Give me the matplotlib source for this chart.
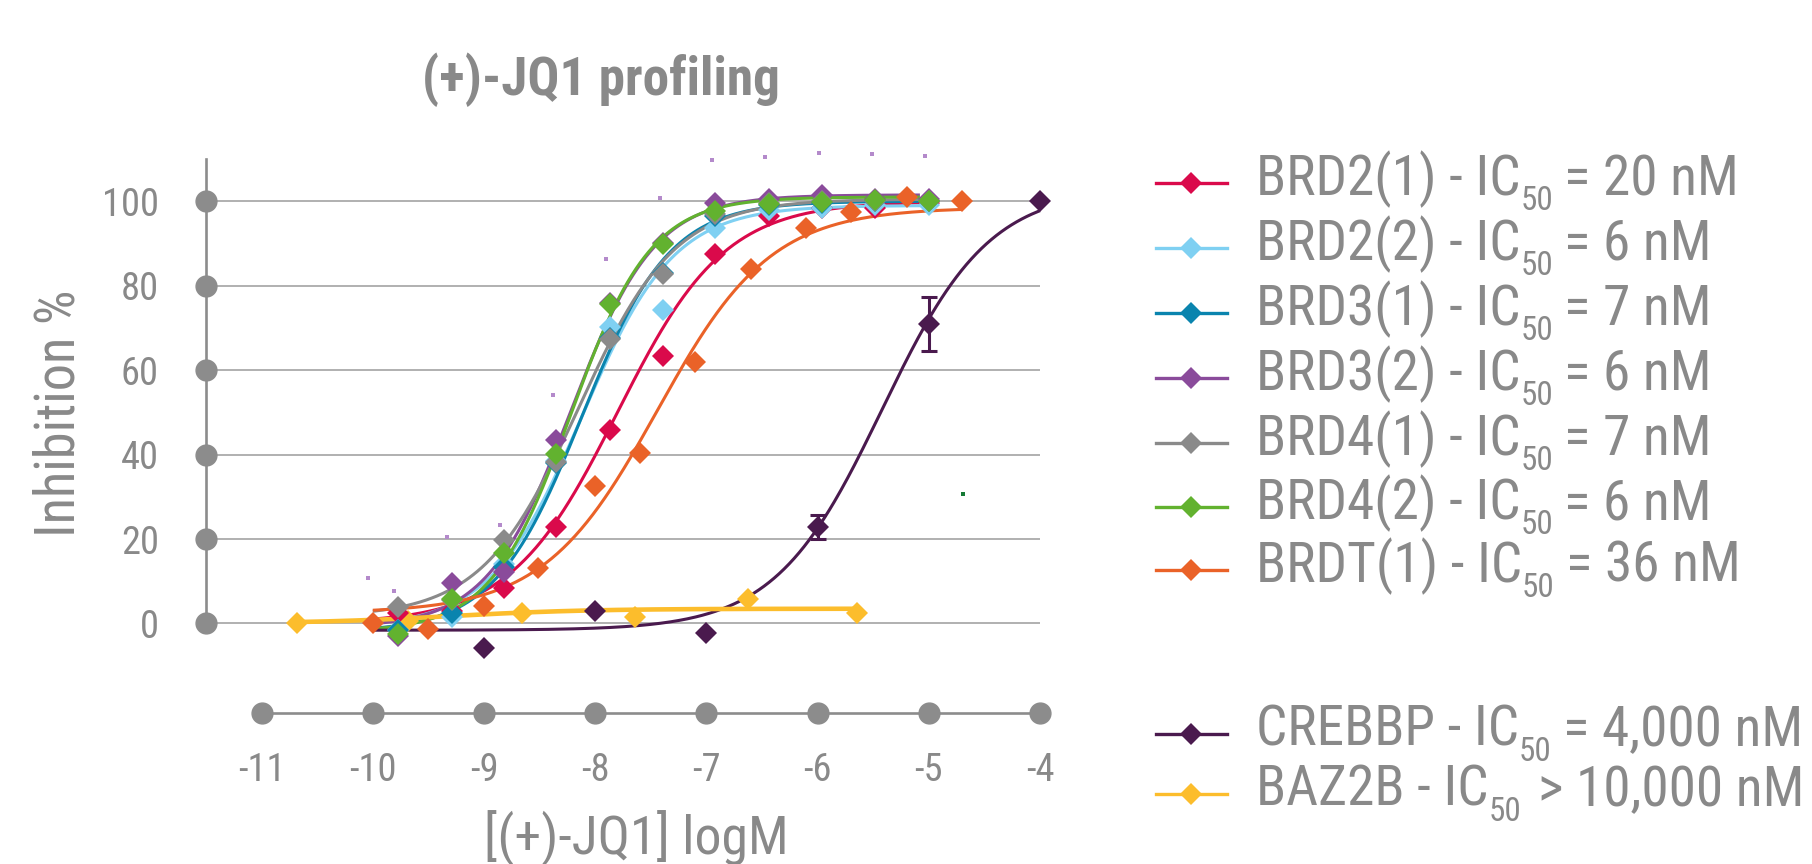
import matplotlib
matplotlib.use("Agg")
import numpy as np
import matplotlib.pyplot as plt
from matplotlib.lines import Line2D
from matplotlib import font_manager

# ---------- font: prefer a narrow / condensed sans if one is installed ----------
fm = font_manager.fontManager
names = {f.name for f in fm.ttflist}
FONT, STRETCH = "Liberation Sans", "normal"
for cand in ["Liberation Sans Narrow", "Roboto Condensed", "Open Sans Condensed",
             "Noto Sans Condensed", "DejaVu Sans Condensed", "Arial Narrow"]:
    if cand in names:
        FONT = cand
        break
else:
    for f in fm.ttflist:
        if f.stretch in ("condensed", "semi-condensed", "extra-condensed") and \
                f.name in ("Roboto", "Noto Sans", "Open Sans", "DejaVu Sans", "Liberation Sans"):
            FONT, STRETCH = f.name, f.stretch
            break
plt.rcParams["font.family"] = [FONT, "DejaVu Sans"]
plt.rcParams["font.stretch"] = STRETCH
plt.rcParams["axes.unicode_minus"] = False

# ---------------- data ----------------
series_names = ["BRD2(1)", "BRD2(2)", "BRD3(1)", "BRD3(2)", "BRD4(1)", "BRD4(2)",
                "BRDT(1)", "CREBBP", "BAZ2B"]
series_colors = ["#DA0A4B", "#7FD0F2", "#0A84AE", "#8A4B9B", "#8A8A8A", "#62B22F",
                 "#EA6228", "#4A1A4E", "#FCBD2C"]

conc_brd = [-9.77, -9.29, -8.82, -8.35, -7.87, -7.39, -6.92, -6.44, -5.96, -5.48, -5.00]
brd2_1 = [2.4, 3.0, 8.4, 22.9, 45.9, 63.3, 87.6, 96.5, 98.5, 98.5, 99.5]
brd2_2 = [-1.5, 1.5, 14.0, 38.5, 70.2, 74.2, 93.7, 98.0, 98.5, 99.0, 99.0]
brd3_1 = [-1.5, 2.5, 13.4, 38.0, 67.5, 83.0, 96.5, 99.0, 99.5, 100.0, 100.0]
brd3_2 = [-3.0, 9.6, 12.2, 43.5, 76.0, 90.0, 99.6, 100.5, 101.4, 100.5, 100.5]
brd4_1 = [3.9, 5.5, 19.7, 38.3, 67.4, 82.8, 97.0, 99.6, 100.0, 100.0, 100.0]
brd4_2 = [-2.4, 5.9, 16.6, 40.2, 75.7, 89.8, 97.8, 99.4, 99.8, 100.2, 100.0]

conc_brdt = [-10.0, -9.5, -9.0, -8.51, -8.0, -7.6, -7.1, -6.6, -6.1, -5.7, -5.2, -4.7]
brdt_1 = [0.1, -1.3, 4.2, 13.2, 32.5, 40.4, 61.9, 84.0, 93.7, 97.4, 101.1, 100.0]

conc_crebbp = [-9.0, -8.0, -7.0, -6.0, -5.0, -4.0]
crebbp = [-5.9, 3.0, -2.2, 22.9, 71.0, 100.0]
crebbp_err = [0.0, 0.0, 0.0, 2.9, 6.4, 0.0]

conc_baz2b = [-10.68, -9.68, -8.66, -7.64, -6.63, -5.65]
baz2b = [0.0, 0.5, 2.6, 1.6, 5.7, 2.5]

# fitted 4-parameter logistic parameters
fit_log_ic50 = [-7.80, -8.12, -8.12, -8.22, -8.15, -8.22, -7.44, -5.42, -9.3]
fit_hill = [0.9, 1.05, 1.1, 1.15, 1.0, 1.2, 0.85, 0.9, 0.7]
fit_bottom = [0.0, -1.0, -2.0, -1.0, 1.5, -2.0, 2.5, -1.6, 0.0]
fit_top = [100.0, 99.0, 100.0, 101.5, 100.5, 101.0, 98.5, 103.0, 3.5]
fit_start = [-10.0, -10.0, -10.0, -10.0, -10.0, -10.0, -10.0, -10.0, -10.68]
fit_end = [-5.0, -5.0, -5.0, -5.08, -5.0, -5.08, -4.7, -4.0, -5.65]

# stray small marks in the picture
stray_x = [-10.04, -9.81, -9.33, -8.86, -8.38, -7.90, -7.42, -6.95, -6.47, -5.99, -5.51, -5.03]
stray_y = [10.8, 7.6, 20.5, 23.3, 54.2, 86.4, 100.7, 109.8, 110.4, 111.4, 111.1, 110.8]
stray_green_x = [-4.69]
stray_green_y = [30.6]

y_ticks = [0, 20, 40, 60, 80, 100]
x_ticks = [-11, -10, -9, -8, -7, -6, -5, -4]
x_tick_labels = ["-11", "-10", "-9", "-8", "-7", "-6", "-5", "-4"]

legend_main = ["BRD2(1) - IC", "BRD2(2) - IC", "BRD3(1) - IC", "BRD3(2) - IC",
               "BRD4(1) - IC", "BRD4(2) - IC", "BRDT(1) - IC", "CREBBP - IC", "BAZ2B - IC"]
legend_tail = ["= 20 nM", "= 6 nM", "= 7 nM", "= 6 nM", "= 7 nM", "= 6 nM",
               "= 36 nM", "= 4,000 nM", "> 10,000 nM"]

# ---------------- figure ----------------
W, H = 1812, 864
TXT = "#898989"
AX = "#8C8C8C"
fig = plt.figure(figsize=(W / 100, H / 100), dpi=100)
renderer = fig.canvas.get_renderer()


def fit_width(t, target, use_height=False):
    bb = t.get_window_extent(renderer)
    cur = bb.height if use_height else bb.width
    t.set_fontsize(t.get_fontsize() * target / cur)


ax = fig.add_axes([206 / W, (H - 713) / H, (1040 - 206) / W, (713 - 159) / H])
ax.set_xlim(-11.5, -4)
ax.set_ylim(-21.2, 110)
ax.patch.set_visible(False)
for s in ["top", "right"]:
    ax.spines[s].set_visible(False)
for s in ["left", "bottom"]:
    ax.spines[s].set_color(AX)
    ax.spines[s].set_linewidth(1.9)
ax.spines["left"].set_bounds(0, 110)
ax.spines["bottom"].set_bounds(-11, -4)

# tick label size from the width of "100"
probe = fig.text(0, 0, "100", fontsize=29)
fit_width(probe, 57)
tick_fs = probe.get_fontsize()
probe.remove()

ax.set_yticks(y_ticks)
ax.set_yticklabels([str(v) for v in y_ticks])
ax.set_xticks(x_ticks)
ax.set_xticklabels(x_tick_labels)
ax.tick_params(axis="y", length=0, pad=34, labelsize=tick_fs, labelcolor=TXT)
ax.tick_params(axis="x", length=0, pad=28, labelsize=tick_fs, labelcolor=TXT)

# gridlines and axis dots
ax.hlines(y_ticks, -11.5, -4, colors="#A3A3A3", lw=1.2, zorder=1)
ax.plot([-11.5] * len(y_ticks), y_ticks, "o", ms=15, color=AX, clip_on=False, zorder=2)
ax.plot(x_ticks, [-21.2] * len(x_ticks), "o", ms=15, color=AX, clip_on=False, zorder=2)

# series
all_x = [conc_brd] * 6 + [conc_brdt, conc_crebbp, conc_baz2b]
all_y = [brd2_1, brd2_2, brd3_1, brd3_2, brd4_1, brd4_2, brdt_1, crebbp, baz2b]
line_w = [2.2] * 8 + [3.3]
for i in range(len(series_names)):
    xs = np.linspace(fit_start[i], fit_end[i], 400)
    ys = fit_bottom[i] + (fit_top[i] - fit_bottom[i]) / (1 + 10 ** ((fit_log_ic50[i] - xs) * fit_hill[i]))
    ax.plot(xs, ys, color=series_colors[i], lw=line_w[i], clip_on=False, zorder=3,
            solid_capstyle="butt")
draw_order = [8, 0, 1, 2, 3, 4, 5, 6, 7]
for i in draw_order:
    ax.plot(all_x[i], all_y[i], "D", ms=11.5, color=series_colors[i], mew=0,
            clip_on=False, zorder=4)
ax.errorbar(conc_crebbp, crebbp, yerr=crebbp_err, fmt="none", ecolor=series_colors[7],
            elinewidth=2.2, capsize=6, capthick=2.2, zorder=5, clip_on=False)
ax.plot(stray_x, stray_y, "s", ms=2.6, color="#B48ACB", mew=0, clip_on=False, zorder=4)
ax.plot(stray_green_x, stray_green_y, "s", ms=2.4, color="#157A35", mew=0, clip_on=False, zorder=4)

# titles
title = fig.text(601 / W, (H - 95) / H, "(+)-JQ1 profiling", ha="center", va="baseline",
                 fontsize=40, fontweight="bold", color=TXT)
fit_width(title, 358)
ylab = fig.text(59 / W, (H - 413) / H, "Inhibition %", rotation=90, ha="center", va="center",
                fontsize=41, color=TXT)
fit_width(ylab, 248, use_height=True)
xlab = fig.text(636 / W, (H - 855) / H, "[(+)-JQ1] logM", ha="center", va="baseline",
                fontsize=41, color=TXT)
fit_width(xlab, 305)

# legend (drawn as pieces to reproduce the lowered subscript)
probe = fig.text(0, 0, legend_main[0], fontsize=41)
fit_width(probe, 270)
leg_fs = probe.get_fontsize()
probe.remove()

row_y = [183, 248, 313, 378, 443, 507, 570, 734, 794]
tail_gap = [11, 11, 11, 11, 11, 11, 11, 11, 17]
TEXT_X = 1256
RIGHT_LIMIT = 1804


def draw_legend_texts(fs):
    arts = []
    for i in range(len(series_names)):
        yb = H - row_y[i] - 12
        t1 = ax.annotate(legend_main[i], xy=(TEXT_X, yb), xycoords="figure pixels",
                         ha="left", va="baseline", fontsize=fs, color=TXT, annotation_clip=False)
        t2 = ax.annotate("50", xy=(1, yb - 15), xycoords=(t1, "figure pixels"),
                         ha="left", va="baseline", fontsize=fs * 0.6, color=TXT,
                         annotation_clip=False)
        t3 = ax.annotate(legend_tail[i], xy=(1, yb), xycoords=(t2, "figure pixels"),
                         xytext=(tail_gap[i], 0), textcoords="offset pixels",
                         ha="left", va="baseline", fontsize=fs, color=TXT, annotation_clip=False)
        arts += [t1, t2, t3]
    return arts


arts = draw_legend_texts(leg_fs)
right = max(a.get_window_extent(renderer).x1 for a in arts)
if right > RIGHT_LIMIT:
    for a in arts:
        a.remove()
    leg_fs *= (RIGHT_LIMIT - TEXT_X) / (right - TEXT_X)
    arts = draw_legend_texts(leg_fs)

for i in range(len(series_names)):
    yl = H - row_y[i]
    fig.add_artist(Line2D([1156 / W, 1227 / W], [yl / H, yl / H], color=series_colors[i],
                          lw=2.4, transform=fig.transFigure))
    fig.add_artist(Line2D([1191 / W], [yl / H], marker="D", ms=11, mew=0,
                          color=series_colors[i], transform=fig.transFigure))

fig.savefig("out.png", dpi=100)
